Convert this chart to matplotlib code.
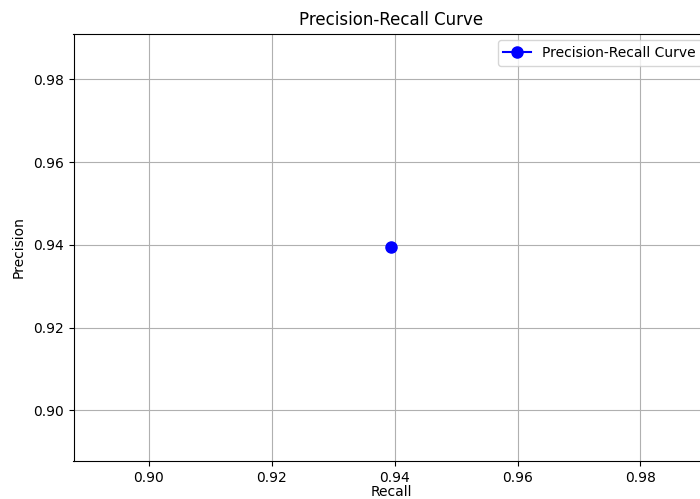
import matplotlib
matplotlib.use("Agg")
import matplotlib.pyplot as plt

recall = [0.9394]
precision = [0.9394]
series_label = "Precision-Recall Curve"

fig = plt.figure(figsize=(7.0, 4.99), dpi=100)
ax = fig.add_axes([73.5/700, 1 - 461/499, (708.5-73.5)/700, (461-33.5)/499])
ax.plot(recall, precision, marker='o', color='blue', markersize=8, label=series_label)
ax.set_xlabel("Recall", labelpad=0)
ax.set_ylabel("Precision", labelpad=5)
ax.set_title("Precision-Recall Curve")
ax.grid(True)
ax.legend(loc='upper right')
fig.savefig("out.png", dpi=100)
